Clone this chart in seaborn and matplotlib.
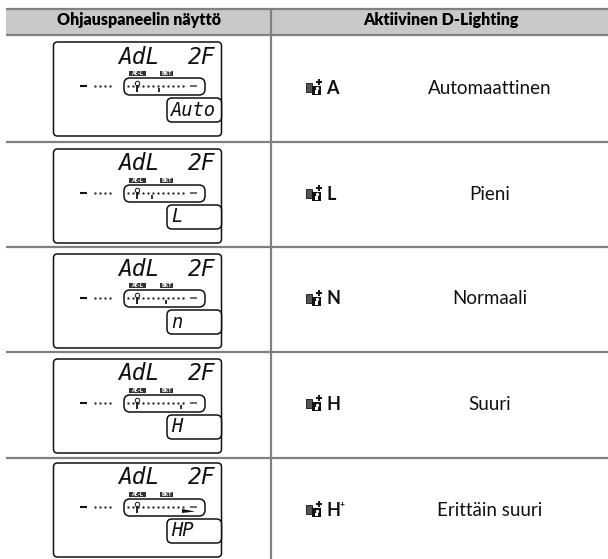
# -*- coding: utf-8 -*-
import matplotlib
matplotlib.use("Agg")
import matplotlib.pyplot as plt
from matplotlib.patches import FancyBboxPatch, Rectangle
import seaborn as sns

# Table content
header_labels = ["Ohjauspaneelin näyttö", "Aktiivinen D-Lighting"]
setting_codes = ["A", "L", "N", "H", "H"]
setting_sups = ["", "", "", "", "+"]
setting_names = ["Automaattinen", "Pieni", "Normaali", "Suuri", "Erittäin suuri"]
lcd_values = ["Auto", "L", "n", "H", "HP"]
indicator_steps = [3, 2, 4, 6, 8]
lcd_top_left = "AdL"
lcd_top_right = "2F"

# Set plot defaults
sns.set_theme(style="white")
RULE = "#808080"
BAND = "#c9c9c9"
INK = "#111111"
NARROW = "Lato"
BODY = "Lato"
LCD = "DejaVu Sans Mono"

row_edges = [35, 142, 247, 352, 458, 564]
panel_tops = [42, 149, 254, 359, 463]

fig, ax = plt.subplots(figsize=(6.08, 5.59), dpi=100)
fig.subplots_adjust(0, 0, 1, 1)


def rounded(x0, y0, x1, y1, radius=4, lw=1.1, fc="none", z=2):
    ax.add_patch(FancyBboxPatch((x0, y0), x1 - x0, y1 - y0,
                                boxstyle=f"round,pad=0,rounding_size={radius}",
                                fc=fc, ec=INK, lw=lw, zorder=z))


def draw_panel(top, value, step):
    rounded(53.5, top, 221.5, top + 94)

    # Big segment readout
    ax.text(139, top + 15, lcd_top_left, family=LCD, style="oblique",
            fontsize=16.5, color=INK, ha="center", va="center")
    ax.text(202, top + 15, lcd_top_right, family=LCD, style="oblique",
            fontsize=16.5, color=INK, ha="center", va="center")

    # Small inverted flags
    for x0, x1, flag in [(129, 146, "AE-L"), (160, 173, "BKT")]:
        ax.add_patch(Rectangle((x0, top + 29), x1 - x0, 5, fc="#333333", ec="none"))
        ax.text((x0 + x1) / 2, top + 31.6, flag, fontsize=3.4, color="white",
                fontweight="bold", ha="center", va="center")

    # Exposure scale
    rounded(124, top + 36, 205, top + 53, radius=6)
    ax.hlines(top + 44, 80, 87, color=INK, lw=1.5)
    ax.hlines(top + 44, 190, 197, color="#444444", lw=1.1)
    dots_x = [95 + 5 * i for i in range(4)] + [128 + 5 * i for i in range(12)]
    sns.scatterplot(x=dots_x, y=[top + 44] * len(dots_x), s=3, color="#333333",
                    linewidth=0, legend=False, ax=ax)

    # Needle and level mark
    ax.vlines(137, top + 43, top + 50, color=INK, lw=1.3)
    ax.plot(137, top + 41, marker="o", ms=3.2, mfc="white", mec=INK, mew=0.7)
    mark_x = 137 + 7.33 * step
    if step < 8:
        ax.vlines(mark_x, top + 46, top + 50, color=INK, lw=1.2)
    else:
        ax.fill([182, 195, 182], [top + 46, top + 48.5, top + 50], color=INK, lw=0)

    # Value box
    rounded(167, top + 56, 221.5, top + 80, radius=5, fc="white", z=3)
    ax.text(171, top + 68, value, family=LCD, style="oblique", fontsize=13.5,
            color=INK, ha="left", va="center", zorder=4)


def draw_icon(cy):
    x = 306
    ax.add_patch(Rectangle((x, cy - 6), 6, 9, fc="#555555", ec=INK, lw=0.6))
    ax.add_patch(Rectangle((x + 6, cy - 3), 9, 9, fc=INK, ec="none"))
    ax.add_patch(Rectangle((x + 9, cy + 1.5), 3, 3.5, fc="white", ec="none"))
    ax.plot(x + 10.5, cy - 0.5, marker="o", ms=2.4, color="white", mew=0)
    ax.plot(x + 13, cy - 7, marker="+", ms=5, color=INK, mew=1.4)


# Header band
ax.add_patch(Rectangle((6, 9), 602, 26, fc=BAND, ec="none", zorder=0))
ax.hlines([9, 35], 6, 608, color=RULE, lw=1.6, zorder=1)
ax.hlines(row_edges[1:5], 6, 608, color=RULE, lw=1.6, zorder=1)
ax.vlines(271, 9, 559, color=RULE, lw=1.6, zorder=1)

for x, label in zip([139, 441], header_labels):
    ax.text(x, 20.5, label, family=NARROW, fontweight="heavy",
            fontsize=11.5, color="black", ha="center", va="center")

# Rows
for i in range(5):
    center = (row_edges[i] + row_edges[i + 1]) / 2
    draw_panel(panel_tops[i], lcd_values[i], indicator_steps[i])
    draw_icon(center)
    ax.text(326, center - 0.5, setting_codes[i], family=NARROW, fontweight="bold",
            fontsize=13, color=INK, ha="left", va="center")
    if setting_sups[i]:
        ax.text(339.5, center - 6, setting_sups[i], family=NARROW, fontweight="bold",
                fontsize=6, color=INK, ha="left", va="center")
    ax.text(490, center - 0.5, setting_names[i], family=BODY, fontsize=13.5,
            color=INK, ha="center", va="center")

# Pixel coordinates, no frame
ax.set_xlim(0, 608)
ax.set_ylim(559, 0)
sns.despine(ax=ax, left=True, bottom=True)
ax.set_xticks([])
ax.set_yticks([])
ax.set_xlabel("")
ax.set_ylabel("")

fig.savefig("out.png", dpi=100, facecolor="white")
